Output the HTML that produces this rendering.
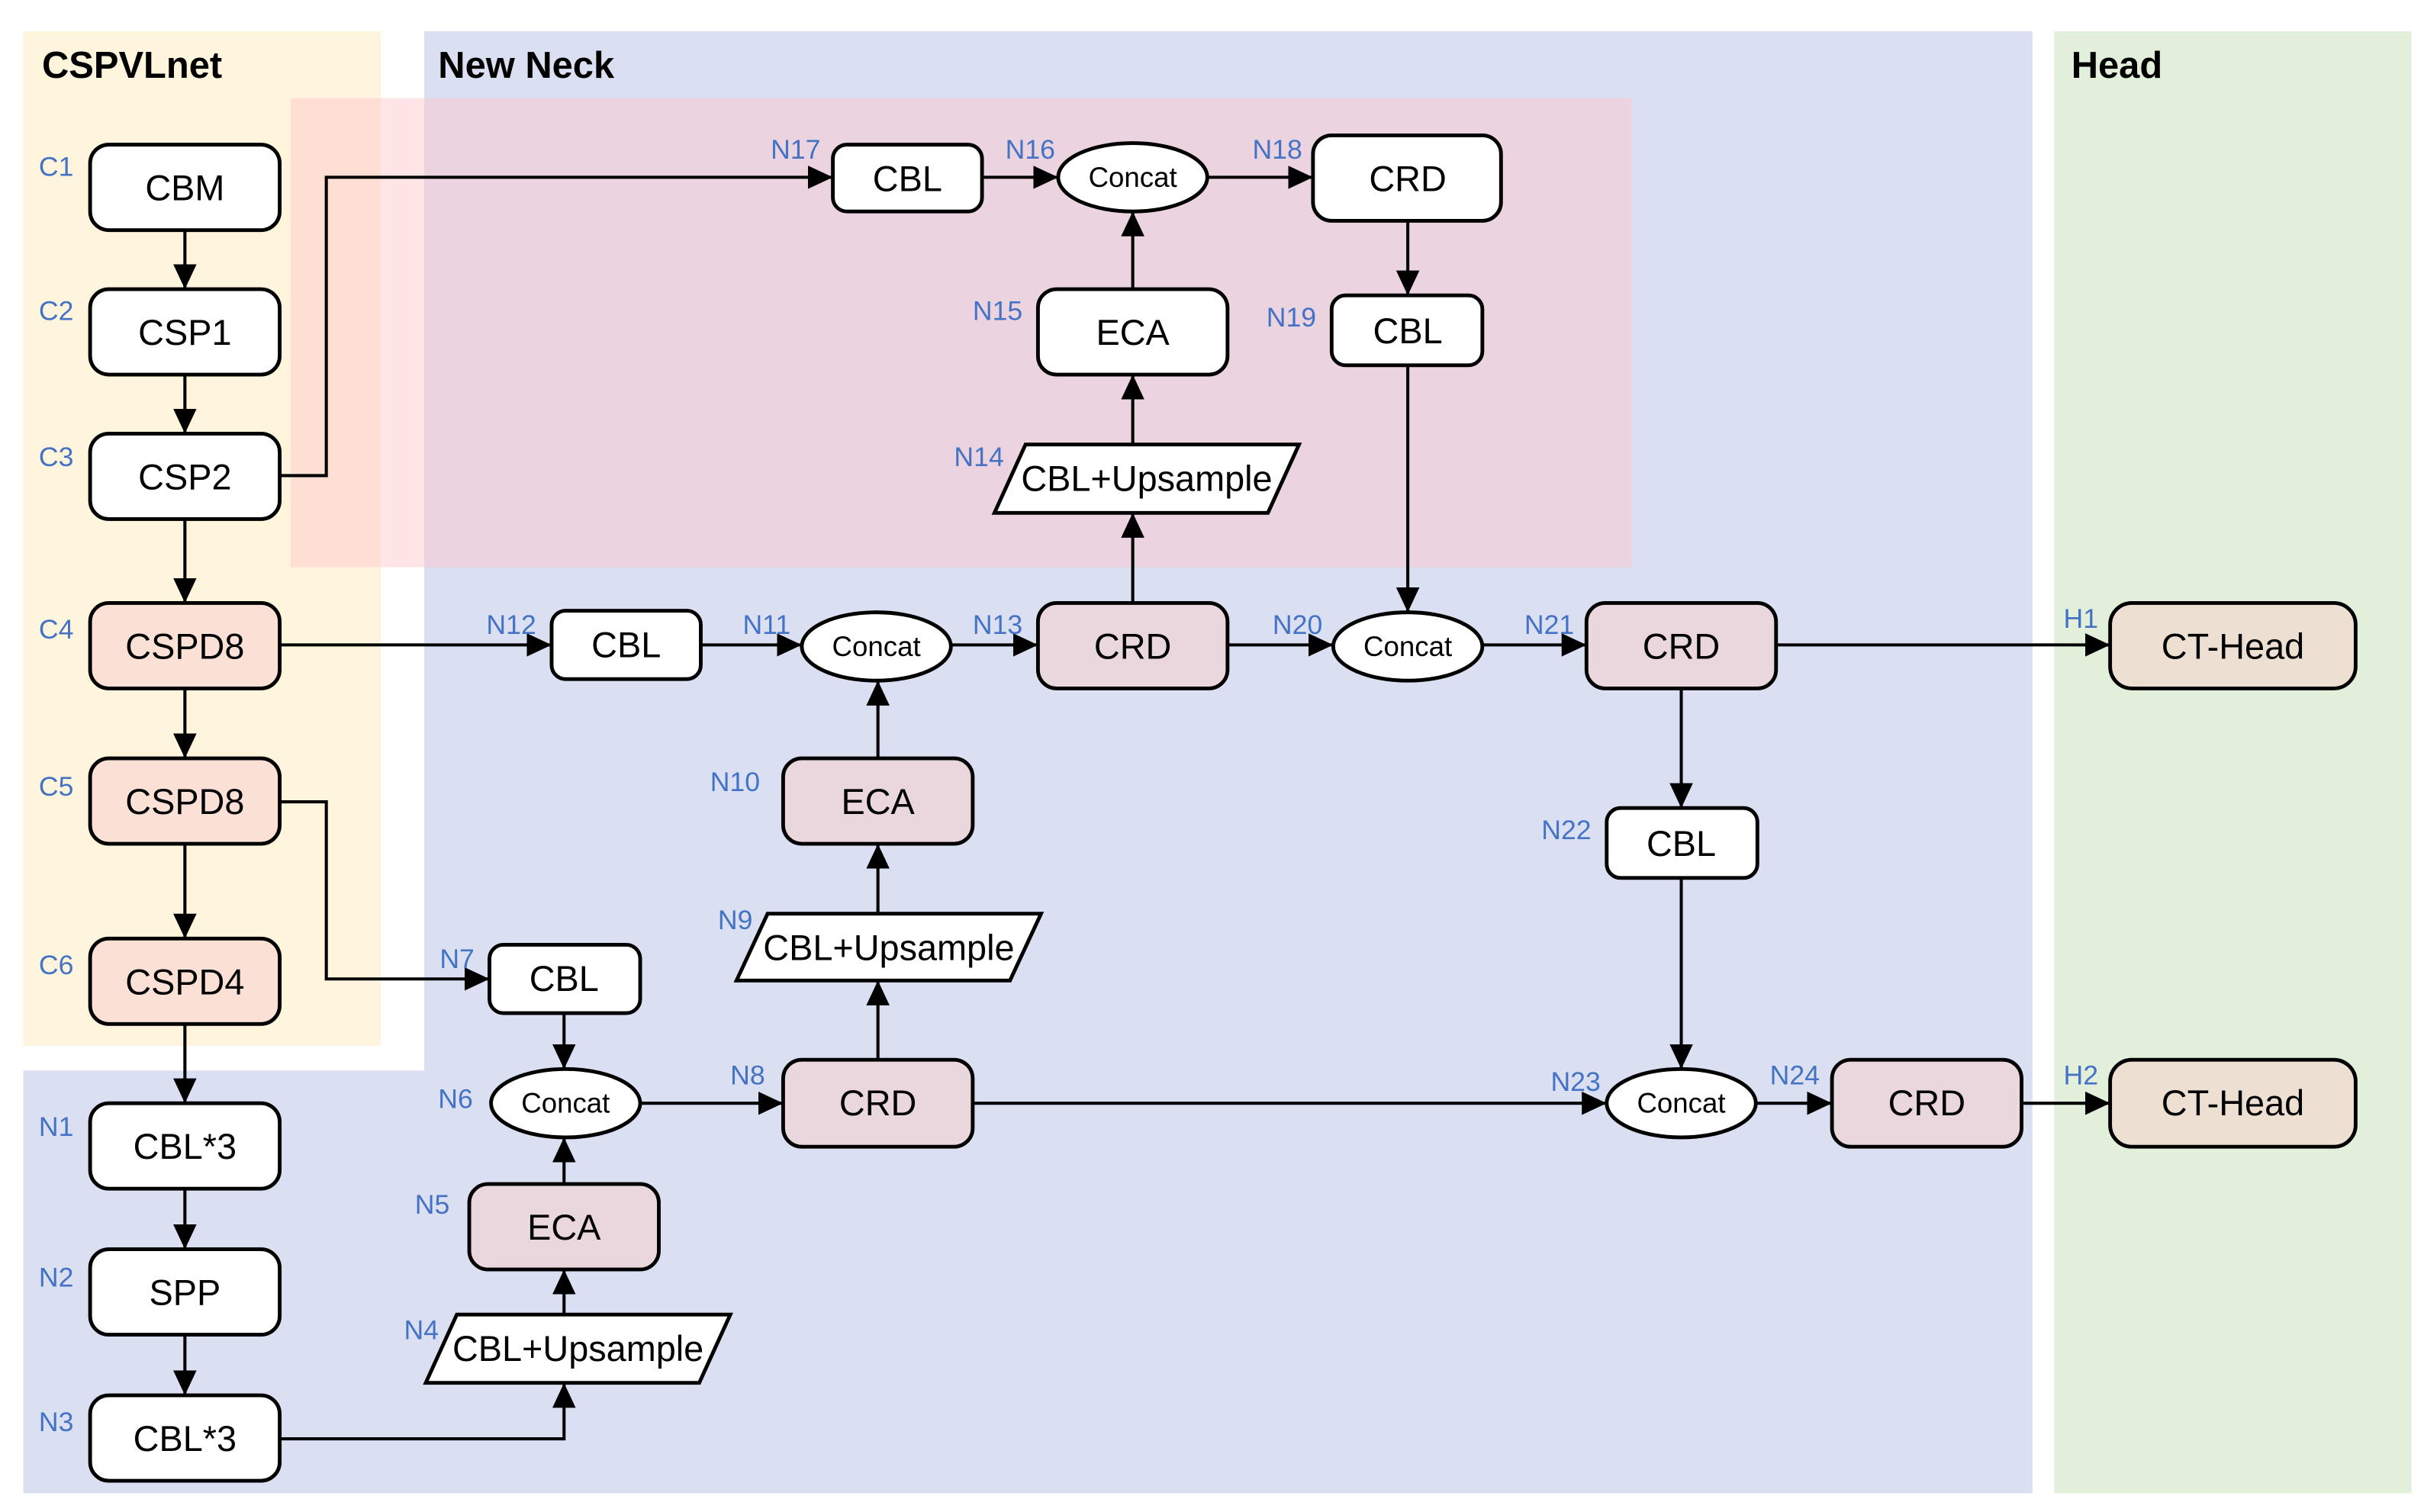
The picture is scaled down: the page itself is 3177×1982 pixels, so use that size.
<!DOCTYPE html>
<html><head><meta charset="utf-8"><style>
html,body{margin:0;padding:0;background:#fff}
svg{display:block}
text{font-family:"Liberation Sans",sans-serif}
.t{font-size:23px;text-anchor:middle;dominant-baseline:central}
.c{font-size:18px;text-anchor:middle;dominant-baseline:central}
.l{font-size:17.5px;fill:#4472c4}
.h{font-size:24px;font-weight:bold}
.b{stroke:#000;stroke-width:2.4}
.e{stroke:#000;stroke-width:2;fill:none}
</style></head><body>
<svg width="3177" height="1982" viewBox="0 0 1560 973" xmlns="http://www.w3.org/2000/svg">
<defs><marker id="a" markerUnits="userSpaceOnUse" markerWidth="18" markerHeight="18" refX="16" refY="9" orient="auto"><path d="M0,1.5 L16,9 L0,16.5z" fill="#000"/></marker></defs>
<rect x="15" y="20" width="230" height="653" fill="#fff4dc"/>
<path d="M273,20 H1308 V961 H15 V689 H273z" fill="#dae0f2"/>
<rect x="1322" y="20" width="230" height="941" fill="#e2efda"/>
<rect x="187" y="63" width="863" height="302" fill="rgba(255,199,201,0.46)"/>
<text class="h" x="27" y="50">CSPVLnet</text>
<text class="h" x="282" y="50">New Neck</text>
<text class="h" x="1333" y="50">Head</text>
<g class="e" marker-end="url(#a)">
<path d="M119,148V186"/><path d="M119,241V279"/><path d="M119,334V388"/>
<path d="M180,306H210V114H536"/>
<path d="M180,415H355"/>
<path d="M119,443V488"/><path d="M119,543V604"/><path d="M119,659V710"/>
<path d="M119,765V804"/><path d="M119,859V898"/>
<path d="M180,516H210V630H315"/>
<path d="M180,926H363V890"/>
<path d="M363,846V817"/><path d="M363,762V732"/><path d="M363,652V688"/>
<path d="M412,710H504"/>
<path d="M565,682V631"/><path d="M565,588V543"/><path d="M565,488V438"/>
<path d="M451,415H516"/><path d="M612,415H668"/>
<path d="M729,388V330"/><path d="M729,286V241"/><path d="M729,186V136"/>
<path d="M632,114H681"/><path d="M777,114H845"/>
<path d="M906,142V190"/><path d="M906,235V394"/>
<path d="M790,415H858"/><path d="M954,415H1021"/>
<path d="M1143,415H1358"/>
<path d="M1082,443V520"/><path d="M1082,565V688"/>
<path d="M626,710H1034"/><path d="M1130,710H1179"/><path d="M1301,710H1358"/>
</g>
<g class="b">
<rect x="58" y="93" width="122" height="55" rx="12" fill="#fff"/>
<rect x="58" y="186" width="122" height="55" rx="12" fill="#fff"/>
<rect x="58" y="279" width="122" height="55" rx="12" fill="#fff"/>
<rect x="58" y="388" width="122" height="55" rx="12" fill="#fbe0d6"/>
<rect x="58" y="488" width="122" height="55" rx="12" fill="#fbe0d6"/>
<rect x="58" y="604" width="122" height="55" rx="12" fill="#fbe0d6"/>
<rect x="58" y="710" width="122" height="55" rx="12" fill="#fff"/>
<rect x="58" y="804" width="122" height="55" rx="12" fill="#fff"/>
<rect x="58" y="898" width="122" height="55" rx="12" fill="#fff"/>
<rect x="536" y="93" width="96" height="43" rx="9" fill="#fff"/>
<rect x="845" y="87" width="121" height="55" rx="12" fill="#fff"/>
<rect x="857" y="190" width="97" height="45" rx="9" fill="#fff"/>
<rect x="668" y="186" width="122" height="55" rx="12" fill="#fff"/>
<rect x="355" y="393" width="96" height="44" rx="9" fill="#fff"/>
<rect x="668" y="388" width="122" height="55" rx="12" fill="#ead7dd"/>
<rect x="1021" y="388" width="122" height="55" rx="12" fill="#ead7dd"/>
<rect x="1358" y="388" width="158" height="55" rx="14" fill="#eedfd3"/>
<rect x="1034" y="520" width="97" height="45" rx="9" fill="#fff"/>
<rect x="504" y="488" width="122" height="55" rx="12" fill="#ead7dd"/>
<rect x="315" y="608" width="97" height="44" rx="9" fill="#fff"/>
<rect x="504" y="682" width="122" height="56" rx="12" fill="#ead7dd"/>
<rect x="1179" y="682" width="122" height="56" rx="12" fill="#ead7dd"/>
<rect x="1358" y="682" width="158" height="56" rx="14" fill="#eedfd3"/>
<rect x="302" y="762" width="122" height="55" rx="12" fill="#ead7dd"/>
<ellipse cx="729" cy="114" rx="48" ry="22" fill="#fff"/>
<ellipse cx="564" cy="416" rx="48" ry="22" fill="#fff"/>
<ellipse cx="906" cy="416" rx="48" ry="22" fill="#fff"/>
<ellipse cx="364" cy="710" rx="48" ry="22" fill="#fff"/>
<ellipse cx="1082" cy="710" rx="48" ry="22" fill="#fff"/>
<path d="M660,286H836L816,330H640z" fill="#fff"/>
<path d="M494,588H670L650,631H474z" fill="#fff"/>
<path d="M294,846H470L450,890H274z" fill="#fff"/>
</g>
<g class="t">
<text x="119" y="121">CBM</text><text x="119" y="214">CSP1</text><text x="119" y="307">CSP2</text>
<text x="119" y="416">CSPD8</text><text x="119" y="516">CSPD8</text><text x="119" y="632">CSPD4</text>
<text x="119" y="738">CBL*3</text><text x="119" y="832">SPP</text><text x="119" y="926">CBL*3</text>
<text x="584" y="115">CBL</text><text x="906" y="115">CRD</text><text x="906" y="213">CBL</text>
<text x="729" y="214">ECA</text><text x="738" y="308">CBL+Upsample</text>
<text x="403" y="415">CBL</text><text x="729" y="416">CRD</text><text x="1082" y="416">CRD</text>
<text x="1437" y="416">CT-Head</text><text x="1082" y="543">CBL</text>
<text x="565" y="516">ECA</text><text x="572" y="610">CBL+Upsample</text>
<text x="363" y="630">CBL</text><text x="565" y="710">CRD</text><text x="1240" y="710">CRD</text>
<text x="1437" y="710">CT-Head</text><text x="363" y="790">ECA</text><text x="372" y="868">CBL+Upsample</text>
</g>
<g class="c">
<text x="729" y="114">Concat</text><text x="564" y="416">Concat</text><text x="906" y="416">Concat</text>
<text x="364" y="710">Concat</text><text x="1082" y="710">Concat</text>
</g>
<g class="l">
<text x="25" y="113">C1</text><text x="25" y="206">C2</text><text x="25" y="300">C3</text>
<text x="25" y="411">C4</text><text x="25" y="512">C5</text><text x="25" y="627">C6</text>
<text x="25" y="731">N1</text><text x="25" y="828">N2</text><text x="25" y="921">N3</text>
<text x="496" y="102">N17</text><text x="647" y="102">N16</text><text x="806" y="102">N18</text>
<text x="626" y="206">N15</text><text x="815" y="210">N19</text><text x="614" y="300">N14</text>
<text x="313" y="408">N12</text><text x="478" y="408">N11</text><text x="626" y="408">N13</text>
<text x="819" y="408">N20</text><text x="981" y="408">N21</text><text x="1328" y="404">H1</text>
<text x="992" y="540">N22</text><text x="457" y="509">N10</text><text x="462" y="598">N9</text>
<text x="283" y="623">N7</text><text x="282" y="713">N6</text><text x="470" y="698">N8</text>
<text x="998" y="702">N23</text><text x="1139" y="698">N24</text><text x="1328" y="698">H2</text>
<text x="267" y="781">N5</text><text x="260" y="862">N4</text>
</g>
</svg>
</body></html>
